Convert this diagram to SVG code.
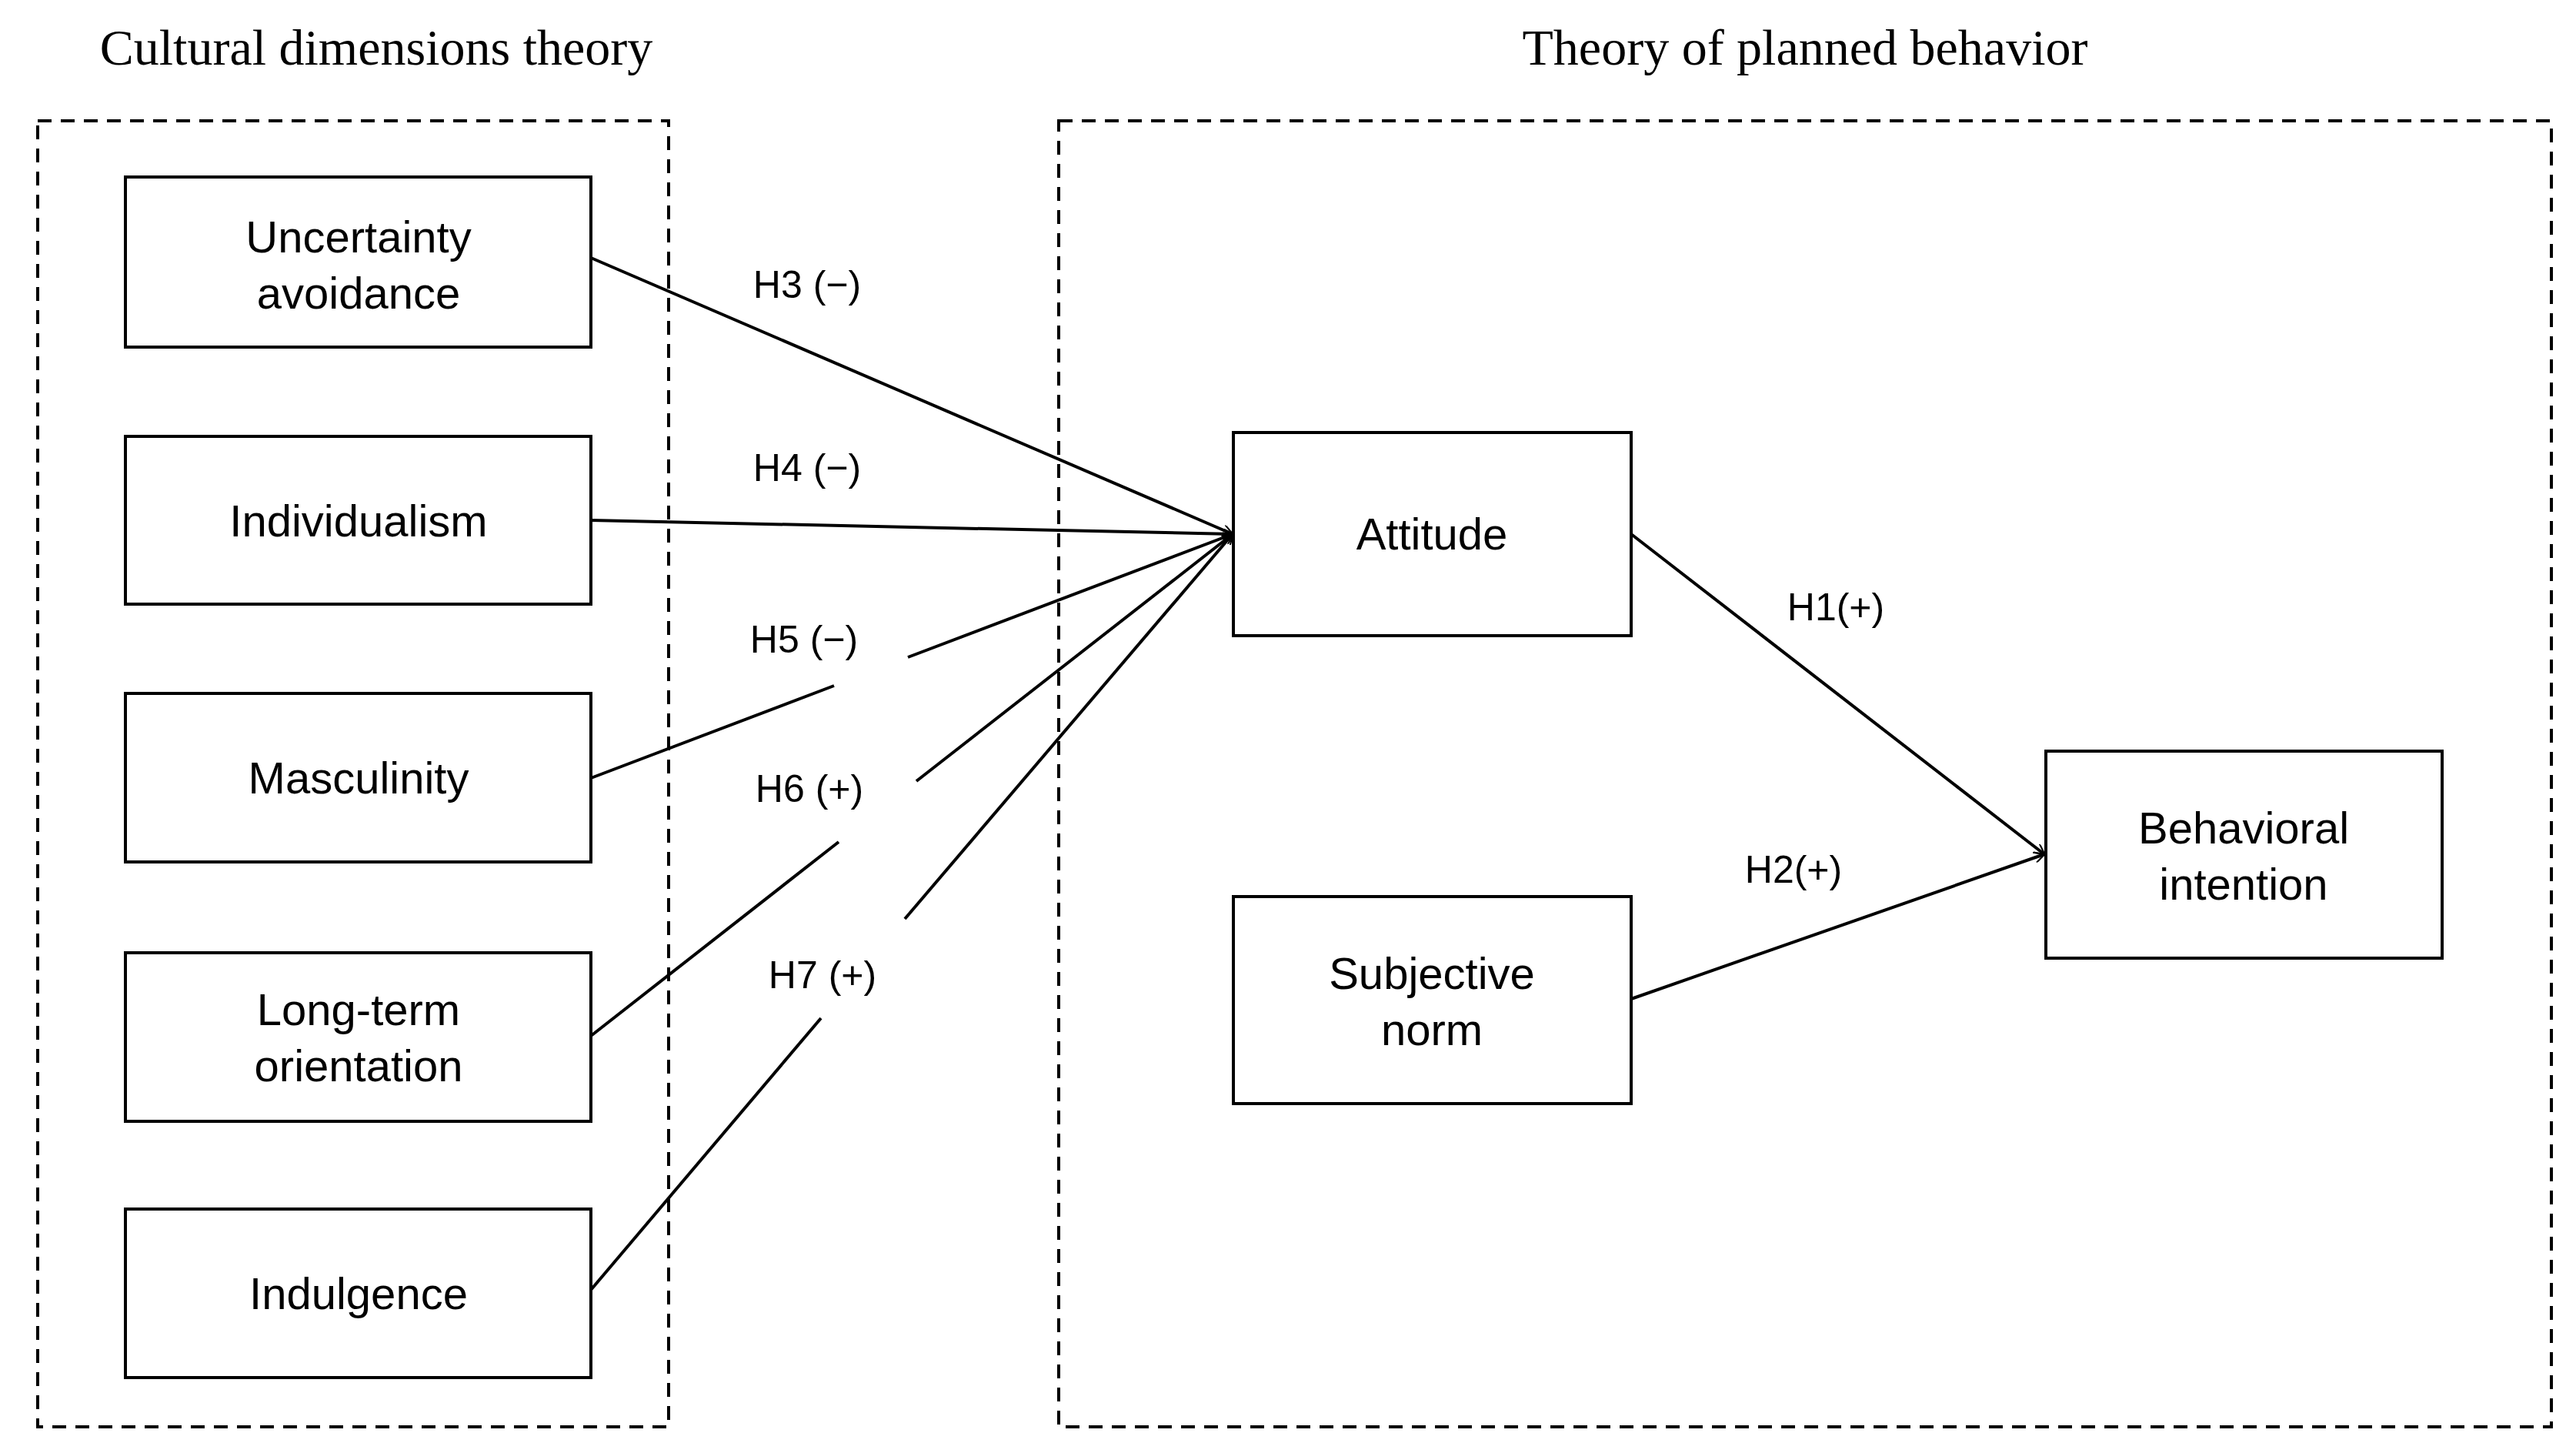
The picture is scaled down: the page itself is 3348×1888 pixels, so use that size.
<svg xmlns="http://www.w3.org/2000/svg" width="3348" height="1888" viewBox="0 0 3348 1888">
<style>
.node{fill:#fff;stroke:#000;stroke-width:4}
.t{font-family:"Liberation Sans",Arial,sans-serif;font-size:58px;text-anchor:middle;fill:#000}
.lb{font-family:"Liberation Sans",Arial,sans-serif;font-size:50px;text-anchor:middle;fill:#000}
.ti{font-family:"Liberation Serif","Times New Roman",serif;font-size:66px;text-anchor:middle;fill:#000}
.grp{fill:none;stroke:#000;stroke-width:4;stroke-dasharray:18 12}
.c{fill:none;stroke:#000;stroke-width:4}
</style>
<defs>
<marker id="ar" viewBox="0 0 20 20" refX="19" refY="10" markerWidth="14" markerHeight="14" markerUnits="userSpaceOnUse" orient="auto">
<path d="M0,0 L20,10 L0,20" fill="none" stroke="#000" stroke-width="3"/>
</marker>
</defs>
<rect width="3348" height="1888" fill="#fff"/>
<g id="groups">
<rect class="grp" x="49" y="157" width="820" height="1697"/>
<rect class="grp" x="1376" y="157" width="1940" height="1697"/>
<text class="ti" x="489" y="84">Cultural dimensions theory</text>
<text class="ti" x="2346" y="84">Theory of planned behavior</text>
</g>
<g id="connectors">
<line class="c" x1="768" y1="335" x2="1602" y2="694" marker-end="url(#ar)"/>
<line class="c" x1="768" y1="676" x2="1602" y2="694" marker-end="url(#ar)"/>
<line class="c" x1="768" y1="1011" x2="1084" y2="891"/>
<line class="c" x1="1180" y1="854" x2="1602" y2="694" marker-end="url(#ar)"/>
<line class="c" x1="768" y1="1346" x2="1090" y2="1094"/>
<line class="c" x1="1191" y1="1015" x2="1602" y2="694" marker-end="url(#ar)"/>
<line class="c" x1="768" y1="1676" x2="1067" y2="1323"/>
<line class="c" x1="1176" y1="1194" x2="1602" y2="694" marker-end="url(#ar)"/>
<line class="c" x1="2120" y1="694" x2="2657" y2="1110" marker-end="url(#ar)"/>
<line class="c" x1="2120" y1="1298" x2="2657" y2="1110" marker-end="url(#ar)"/>
<text class="lb" x="1049" y="387">H3 (−)</text>
<text class="lb" x="1049" y="625">H4 (−)</text>
<text class="lb" x="1045" y="848">H5 (−)</text>
<text class="lb" x="1052" y="1042">H6 (+)</text>
<text class="lb" x="1069" y="1284">H7 (+)</text>
<text class="lb" x="2386" y="806">H1(+)</text>
<text class="lb" x="2331" y="1147">H2(+)</text>
</g>
<g id="ua"><rect class="node" x="163" y="230" width="605" height="221"/><text class="t" x="466" y="328">Uncertainty</text><text class="t" x="466" y="401">avoidance</text></g>
<g id="ind"><rect class="node" x="163" y="567" width="605" height="218"/><text class="t" x="466" y="697">Individualism</text></g>
<g id="mas"><rect class="node" x="163" y="901" width="605" height="219"/><text class="t" x="466" y="1031">Masculinity</text></g>
<g id="lto"><rect class="node" x="163" y="1238" width="605" height="219"/><text class="t" x="466" y="1332">Long-term</text><text class="t" x="466" y="1405">orientation</text></g>
<g id="indu"><rect class="node" x="163" y="1571" width="605" height="219"/><text class="t" x="466" y="1701">Indulgence</text></g>
<g id="att"><rect class="node" x="1603" y="562" width="517" height="264"/><text class="t" x="1861" y="714">Attitude</text></g>
<g id="sn"><rect class="node" x="1603" y="1165" width="517" height="269"/><text class="t" x="1861" y="1285">Subjective</text><text class="t" x="1861" y="1358">norm</text></g>
<g id="bi"><rect class="node" x="2659" y="976" width="515" height="269"/><text class="t" x="2916" y="1096">Behavioral</text><text class="t" x="2916" y="1169">intention</text></g>
</svg>
